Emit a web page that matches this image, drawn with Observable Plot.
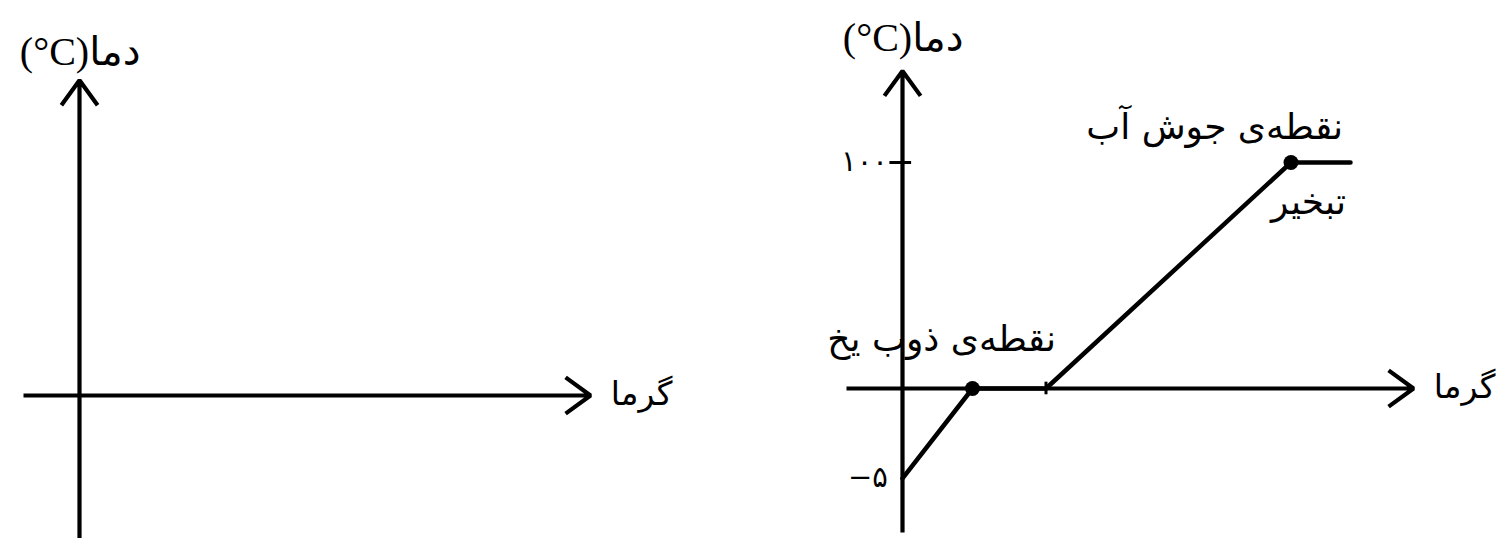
<!DOCTYPE html>
<html><head><meta charset="utf-8">
<script src="https://cdn.jsdelivr.net/npm/d3@7"></script>
<script src="https://cdn.jsdelivr.net/npm/@observablehq/plot@0.6"></script>
<style>
html,body{margin:0;padding:0;background:#fff;}
#wrap{position:relative;width:1498px;height:538px;overflow:hidden;background:#fff;}
#wrap svg{position:absolute;top:0;}
</style></head><body><div id="wrap"></div>
<script>
// Schematic heating curve of water (heat in arbitrary units, temperature in °C)
const heat = [0, 10, 20.5, 55.5, 64];
const temperature = [-5, 0, 0, 100, 100];
const markedPointIdx = [1, 3];            // melting point, boiling point
const yTicks = [100, -5];
const yTickLabels = ["۱۰۰", "−۵"];
const xTicks = [20.5];                     // end of melting
const yAxisLabel = "\u202Bدما(\u200E°C)\u202C";
const xAxisLabel = "گرما";
const annotationTexts = ["نقطه‌ی جوش آب", "تبخیر", "نقطه‌ی ذوب یخ"];
const annotationHeat = [44.6, 58, 5.6];
const annotationTemp = [115.5, 82.5, 21.5];
const xAxisExtent = [-8, 73];
const yAxisExtentLeft = [-9.5, 139.5];
const yAxisExtentRight = [-8, 140.5];

const curve = heat.map((h, i) => ({heat: h, temp: temperature[i]}));
const marked = markedPointIdx.map(i => curve[i]);
const ticks = yTicks.map((t, i) => ({temp: t, label: yTickLabels[i]}));
const notes = annotationTexts.map((t, i) => ({text: t, heat: annotationHeat[i], temp: annotationTemp[i]}));

// the drawing stretches the part below 0 °C (not to scale)
const belowZeroStretch = 7.96;
const stretch = t => (t < 0 ? t * belowZeroStretch : t);

const INK = "#000";
const arrowStyle = {stroke: INK, strokeWidth: 4.2, headAngle: 72, headLength: 11, strokeLinecap: "butt"};
const latinArabic = "Liberation Serif, DejaVu Sans, sans-serif";
const arabic = "DejaVu Sans, sans-serif";

function panel({width, yRange, yExtent, labelY, withCurve}) {
  const marks = [
    Plot.arrow([{x1: xAxisExtent[0], x2: xAxisExtent[1], y: 0}], {x1: "x1", x2: "x2", y1: "y", y2: "y", ...arrowStyle}),
    Plot.arrow([{y1: yExtent[0], y2: yExtent[1], x: 0}], {x1: "x", x2: "x", y1: "y1", y2: "y2", ...arrowStyle}),
    Plot.text([yAxisLabel], {x: 0.1, y: labelY, text: d => d, fontSize: 40, fontFamily: latinArabic, fill: INK}),
    Plot.text([xAxisLabel], {x: 80.3, y: 0.5, text: d => d, fontSize: 33, fontFamily: arabic, fill: INK})
  ];
  if (withCurve) {
    marks.push(
      Plot.ruleY(ticks.filter(d => d.temp === 100), {y: "temp", x1: -1.8, x2: 1.3, stroke: INK, strokeWidth: 3}),
      Plot.ruleX(xTicks, {x: d => d, y1: -0.35, y2: 2.8, stroke: INK, strokeWidth: 3}),
      Plot.text(ticks, {x: -2.1, y: "temp", text: "label", textAnchor: "end", fontSize: 29, fontFamily: arabic, fill: INK, dy: -1}),
      Plot.line(curve, {x: "heat", y: "temp", stroke: INK, strokeWidth: 4.5, strokeLinejoin: "round"}),
      Plot.dot(marked, {x: "heat", y: "temp", r: 7.5, fill: INK}),
      Plot.text(notes, {x: "heat", y: "temp", text: "text", fontSize: 36, fontFamily: arabic, fill: INK})
    );
  }
  return Plot.plot({
    width, height: 538,
    marginTop: 0, marginRight: 0, marginBottom: 0, marginLeft: 0,
    x: {domain: [0, 100], range: [79, 779], axis: null},
    y: {type: "linear", transform: stretch, domain: [0, 100], range: yRange, axis: null},
    style: {background: "transparent", overflow: "visible"},
    marks
  });
}

const wrap = document.getElementById("wrap");
const left = panel({width: 823, yRange: [395, 169], yExtent: yAxisExtentLeft, labelY: 152, withCurve: false});
const right = panel({width: 675, yRange: [388, 162], yExtent: yAxisExtentRight, labelY: 155, withCurve: true});
left.style.left = "0px";
right.style.left = "823px";
wrap.appendChild(left);
wrap.appendChild(right);
</script>
</body></html>
